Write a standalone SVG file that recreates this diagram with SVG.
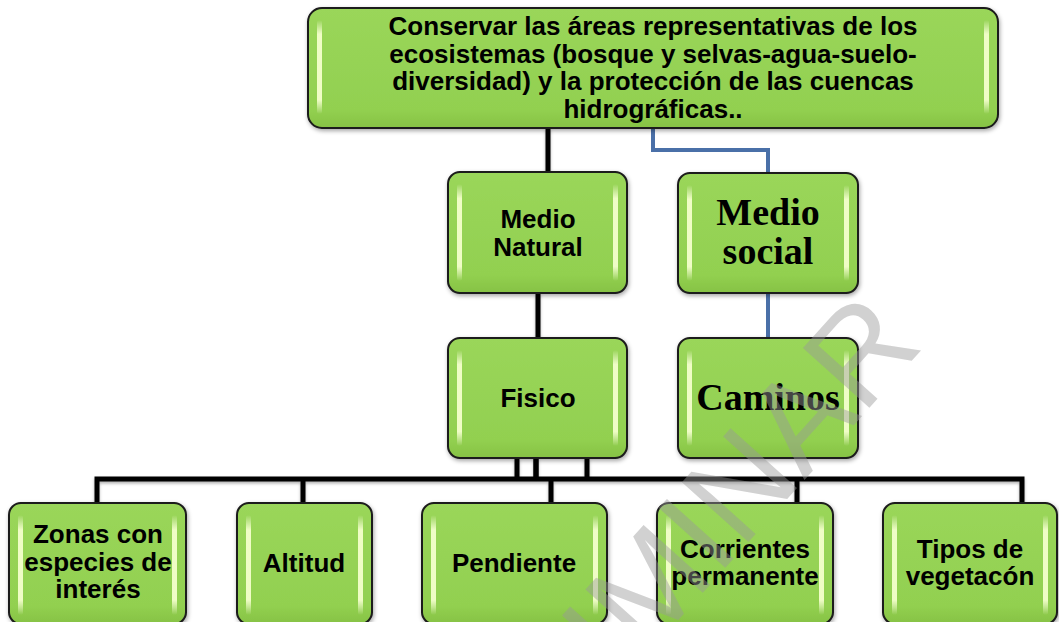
<svg xmlns="http://www.w3.org/2000/svg" width="1059" height="622" viewBox="0 0 1059 622">
<defs>
<linearGradient id="fillG" x1="0" y1="0" x2="0" y2="1">
<stop offset="0" stop-color="#9ad65a"/>
<stop offset="0.85" stop-color="#92d050"/>
<stop offset="1" stop-color="#86c244"/>
</linearGradient>
<linearGradient id="hiG" x1="0" y1="0" x2="0" y2="1">
<stop offset="0" stop-color="#fbffe0" stop-opacity="0"/>
<stop offset="0.15" stop-color="#f4ffcc" stop-opacity="0.95"/>
<stop offset="0.85" stop-color="#f4ffcc" stop-opacity="0.95"/>
<stop offset="1" stop-color="#fbffe0" stop-opacity="0"/>
</linearGradient>
<filter id="sh" x="-10%" y="-10%" width="120%" height="130%">
<feDropShadow dx="1" dy="2" stdDeviation="2" flood-color="#000" flood-opacity="0.35"/>
</filter>
<filter id="lsh" x="-10%" y="-50%" width="120%" height="200%">
<feDropShadow dx="0" dy="2" stdDeviation="1.5" flood-color="#000" flood-opacity="0.3"/>
</filter>
</defs>
<style>
.box{fill:url(#fillG);stroke:#1a1a1a;stroke-width:2;filter:url(#sh)}
.hi{fill:url(#hiG)}
.t{font-family:"Liberation Sans",Arial,sans-serif;font-weight:bold;font-size:26px;fill:#000;text-anchor:middle}
.s{font-family:"Liberation Serif","Times New Roman",serif;font-weight:bold;font-size:38px;fill:#000;text-anchor:middle}
.k{fill:none;stroke:#000;stroke-width:5}
.b{fill:none;stroke:#4a70a8;stroke-width:4}
</style>
<rect width="1059" height="622" fill="#fff"/>
<g id="connectors">
<g filter="url(#lsh)">
<path class="k" d="M548 128V172"/>
<path class="k" d="M538 293V338"/>
<path class="k" d="M517 458V479M536 458V479M587 458V479"/>
<path class="k" d="M97 503V479H1022V503M303 479V503M551 479V503M797 479V503"/>
</g>
<path class="k" stroke-width="7" d="M536 458V481"/>
<path class="b" d="M653 128V150H768V173"/>
<path class="b" d="M768 293V338"/>
</g>
<g id="n-top">
<rect class="box" x="308" y="8" width="690" height="120" rx="14"/>
<rect class="hi" x="317" y="20" width="5" height="94" rx="2.5"/>
<rect class="hi" x="984" y="20" width="5" height="94" rx="2.5"/>
<text class="t" x="653" y="35">Conservar las áreas representativas de los</text>
<text class="t" x="653" y="63">ecosistemas (bosque y selvas-agua-suelo-</text>
<text class="t" x="653" y="90">diversidad) y la protección de las cuencas</text>
<text class="t" x="653" y="118">hidrográficas..</text>
</g>
<g id="n-medio-natural">
<rect class="box" x="448" y="172" width="179" height="121" rx="12"/>
<rect class="hi" x="457" y="184" width="5" height="97" rx="2.5"/>
<rect class="hi" x="613" y="184" width="5" height="97" rx="2.5"/>
<text class="t" x="538" y="228">Medio</text>
<text class="t" x="538" y="256">Natural</text>
</g>
<g id="n-medio-social">
<rect class="box" x="678" y="173" width="180" height="120" rx="12"/>
<rect class="hi" x="687" y="185" width="5" height="96" rx="2.5"/>
<rect class="hi" x="844" y="185" width="5" height="96" rx="2.5"/>
<text class="s" x="768" y="225">Medio</text>
<text class="s" x="768" y="264">social</text>
</g>
<g id="n-fisico">
<rect class="box" x="448" y="338" width="179" height="120" rx="12"/>
<rect class="hi" x="457" y="350" width="5" height="96" rx="2.5"/>
<rect class="hi" x="613" y="350" width="5" height="96" rx="2.5"/>
<text class="t" x="538" y="407">Fisico</text>
</g>
<g id="n-caminos">
<rect class="box" x="678" y="338" width="180" height="120" rx="12"/>
<rect class="hi" x="687" y="350" width="5" height="96" rx="2.5"/>
<rect class="hi" x="844" y="350" width="5" height="96" rx="2.5"/>
<text class="s" x="768" y="410">Caminos</text>
</g>
<g id="n-zonas">
<rect class="box" x="9" y="503" width="177" height="121" rx="12"/>
<rect class="hi" x="18" y="515" width="5" height="100" rx="2.5"/>
<rect class="hi" x="172" y="515" width="5" height="100" rx="2.5"/>
<text class="t" x="98" y="543">Zonas con</text>
<text class="t" x="98" y="571">especies de</text>
<text class="t" x="98" y="598">interés</text>
</g>
<g id="n-altitud">
<rect class="box" x="237" y="503" width="135" height="121" rx="12"/>
<rect class="hi" x="246" y="515" width="5" height="100" rx="2.5"/>
<rect class="hi" x="358" y="515" width="5" height="100" rx="2.5"/>
<text class="t" x="304" y="572">Altitud</text>
</g>
<g id="n-pendiente">
<rect class="box" x="422" y="503" width="185" height="121" rx="12"/>
<rect class="hi" x="431" y="515" width="5" height="100" rx="2.5"/>
<rect class="hi" x="593" y="515" width="5" height="100" rx="2.5"/>
<text class="t" x="514" y="572">Pendiente</text>
</g>
<g id="n-corrientes">
<rect class="box" x="657" y="503" width="176" height="121" rx="12"/>
<rect class="hi" x="666" y="515" width="5" height="100" rx="2.5"/>
<rect class="hi" x="819" y="515" width="5" height="100" rx="2.5"/>
<text class="t" x="745" y="558">Corrientes</text>
<text class="t" x="745" y="585">permanente</text>
</g>
<g id="n-tipos">
<rect class="box" x="883" y="503" width="174" height="121" rx="12"/>
<rect class="hi" x="892" y="515" width="5" height="100" rx="2.5"/>
<rect class="hi" x="1043" y="515" width="5" height="100" rx="2.5"/>
<text class="t" x="970" y="558">Tipos de</text>
<text class="t" x="970" y="585">vegetacón</text>
</g>
<text id="watermark" x="925" y="346" transform="rotate(-48 925 346)" font-family="'Liberation Sans',Arial,sans-serif" font-size="130" fill="#9a9a9a" fill-opacity="0.45" text-anchor="end">PRELIMINAR</text>
</svg>
